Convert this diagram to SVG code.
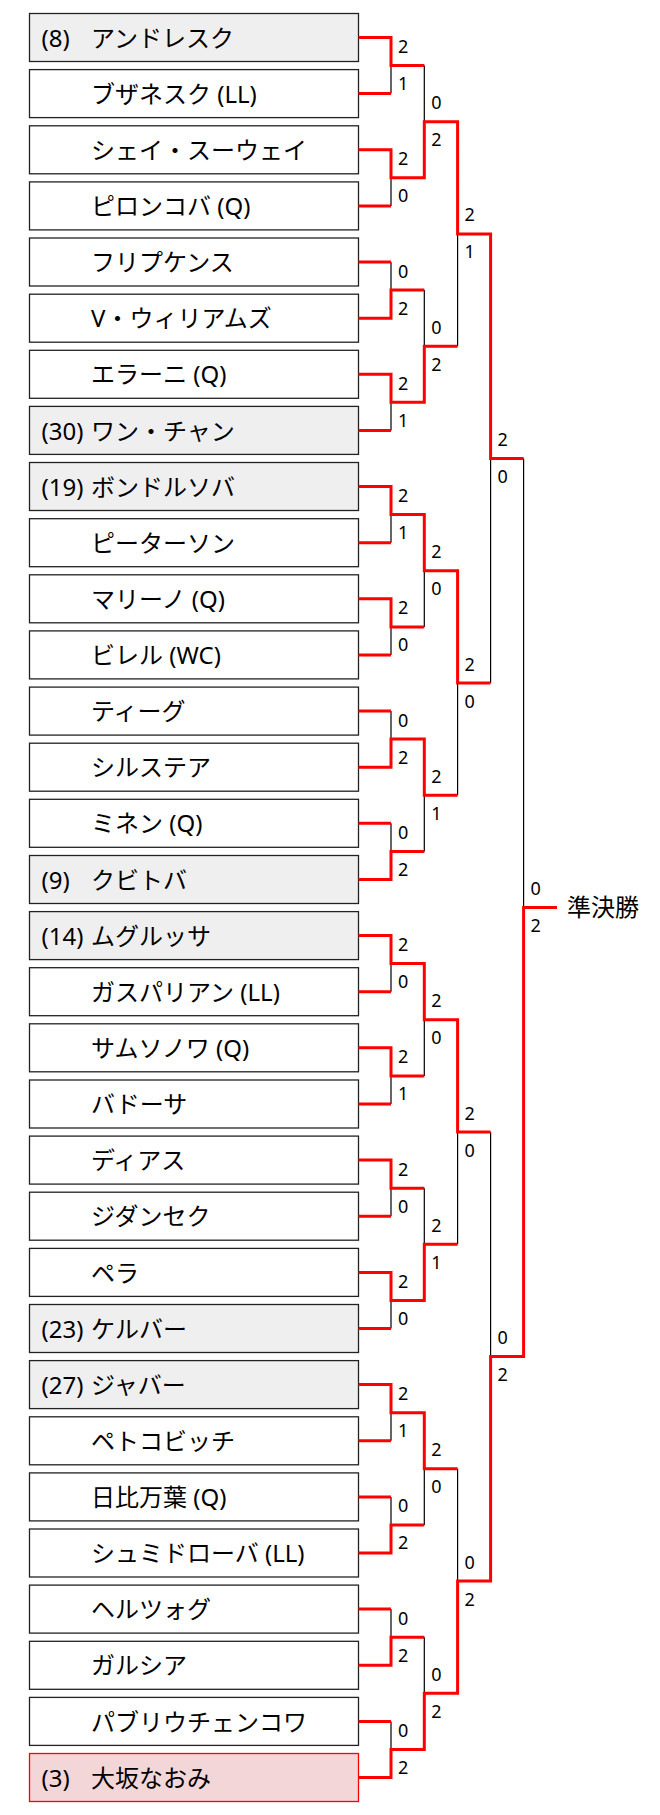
<svg xmlns="http://www.w3.org/2000/svg" width="660" height="1815" viewBox="0 0 660 1815">
<style>
text{font-family:"Noto Sans","Noto Sans CJK JP",sans-serif;fill:#000}
.box{fill:#fff;stroke:#222;stroke-width:1.3}
.seed{fill:#efefef}
.champ{fill:#f3d6d8;stroke:#f00}
.nm{font-size:24px}
.sc{font-size:18px}
.red{fill:none;stroke:#f00;stroke-width:3;stroke-linejoin:miter}
.blk{fill:none;stroke:#000;stroke-width:1.2}
</style>
<rect width="660" height="1815" fill="#fff"/>
<g id="players">
<g id="p1" transform="translate(0,13.5)"><rect class="box seed" x="29.5" y="0" width="329" height="48"/><text class="nm" x="41.5" y="33.2">(8)</text><text class="nm" x="91" y="33.2">アンドレスク</text></g>
<g id="p2" transform="translate(0,69.6)"><rect class="box" x="29.5" y="0" width="329" height="48"/><text class="nm" x="91" y="33.2">ブザネスク (LL)</text></g>
<g id="p3" transform="translate(0,125.8)"><rect class="box" x="29.5" y="0" width="329" height="48"/><text class="nm" x="91" y="33.2">シェイ・スーウェイ</text></g>
<g id="p4" transform="translate(0,181.9)"><rect class="box" x="29.5" y="0" width="329" height="48"/><text class="nm" x="91" y="33.2">ピロンコバ (Q)</text></g>
<g id="p5" transform="translate(0,238)"><rect class="box" x="29.5" y="0" width="329" height="48"/><text class="nm" x="91" y="33.2">フリプケンス</text></g>
<g id="p6" transform="translate(0,294.2)"><rect class="box" x="29.5" y="0" width="329" height="48"/><text class="nm" x="91" y="33.2">V・ウィリアムズ</text></g>
<g id="p7" transform="translate(0,350.3)"><rect class="box" x="29.5" y="0" width="329" height="48"/><text class="nm" x="91" y="33.2">エラーニ (Q)</text></g>
<g id="p8" transform="translate(0,406.4)"><rect class="box seed" x="29.5" y="0" width="329" height="48"/><text class="nm" x="41.5" y="33.2">(30)</text><text class="nm" x="91" y="33.2">ワン・チャン</text></g>
<g id="p9" transform="translate(0,462.5)"><rect class="box seed" x="29.5" y="0" width="329" height="48"/><text class="nm" x="41.5" y="33.2">(19)</text><text class="nm" x="91" y="33.2">ボンドルソバ</text></g>
<g id="p10" transform="translate(0,518.7)"><rect class="box" x="29.5" y="0" width="329" height="48"/><text class="nm" x="91" y="33.2">ピーターソン</text></g>
<g id="p11" transform="translate(0,574.8)"><rect class="box" x="29.5" y="0" width="329" height="48"/><text class="nm" x="91" y="33.2">マリーノ (Q)</text></g>
<g id="p12" transform="translate(0,630.9)"><rect class="box" x="29.5" y="0" width="329" height="48"/><text class="nm" x="91" y="33.2">ビレル (WC)</text></g>
<g id="p13" transform="translate(0,687.1)"><rect class="box" x="29.5" y="0" width="329" height="48"/><text class="nm" x="91" y="33.2">ティーグ</text></g>
<g id="p14" transform="translate(0,743.2)"><rect class="box" x="29.5" y="0" width="329" height="48"/><text class="nm" x="91" y="33.2">シルステア</text></g>
<g id="p15" transform="translate(0,799.3)"><rect class="box" x="29.5" y="0" width="329" height="48"/><text class="nm" x="91" y="33.2">ミネン (Q)</text></g>
<g id="p16" transform="translate(0,855.5)"><rect class="box seed" x="29.5" y="0" width="329" height="48"/><text class="nm" x="41.5" y="33.2">(9)</text><text class="nm" x="91" y="33.2">クビトバ</text></g>
<g id="p17" transform="translate(0,911.6)"><rect class="box seed" x="29.5" y="0" width="329" height="48"/><text class="nm" x="41.5" y="33.2">(14)</text><text class="nm" x="91" y="33.2">ムグルッサ</text></g>
<g id="p18" transform="translate(0,967.7)"><rect class="box" x="29.5" y="0" width="329" height="48"/><text class="nm" x="91" y="33.2">ガスパリアン (LL)</text></g>
<g id="p19" transform="translate(0,1023.8)"><rect class="box" x="29.5" y="0" width="329" height="48"/><text class="nm" x="91" y="33.2">サムソノワ (Q)</text></g>
<g id="p20" transform="translate(0,1080)"><rect class="box" x="29.5" y="0" width="329" height="48"/><text class="nm" x="91" y="33.2">バドーサ</text></g>
<g id="p21" transform="translate(0,1136.1)"><rect class="box" x="29.5" y="0" width="329" height="48"/><text class="nm" x="91" y="33.2">ディアス</text></g>
<g id="p22" transform="translate(0,1192.2)"><rect class="box" x="29.5" y="0" width="329" height="48"/><text class="nm" x="91" y="33.2">ジダンセク</text></g>
<g id="p23" transform="translate(0,1248.4)"><rect class="box" x="29.5" y="0" width="329" height="48"/><text class="nm" x="91" y="33.2">ペラ</text></g>
<g id="p24" transform="translate(0,1304.5)"><rect class="box seed" x="29.5" y="0" width="329" height="48"/><text class="nm" x="41.5" y="33.2">(23)</text><text class="nm" x="91" y="33.2">ケルバー</text></g>
<g id="p25" transform="translate(0,1360.6)"><rect class="box seed" x="29.5" y="0" width="329" height="48"/><text class="nm" x="41.5" y="33.2">(27)</text><text class="nm" x="91" y="33.2">ジャバー</text></g>
<g id="p26" transform="translate(0,1416.8)"><rect class="box" x="29.5" y="0" width="329" height="48"/><text class="nm" x="91" y="33.2">ペトコビッチ</text></g>
<g id="p27" transform="translate(0,1472.9)"><rect class="box" x="29.5" y="0" width="329" height="48"/><text class="nm" x="91" y="33.2">日比万葉 (Q)</text></g>
<g id="p28" transform="translate(0,1529)"><rect class="box" x="29.5" y="0" width="329" height="48"/><text class="nm" x="91" y="33.2">シュミドローバ (LL)</text></g>
<g id="p29" transform="translate(0,1585.1)"><rect class="box" x="29.5" y="0" width="329" height="48"/><text class="nm" x="91" y="33.2">ヘルツォグ</text></g>
<g id="p30" transform="translate(0,1641.3)"><rect class="box" x="29.5" y="0" width="329" height="48"/><text class="nm" x="91" y="33.2">ガルシア</text></g>
<g id="p31" transform="translate(0,1697.4)"><rect class="box" x="29.5" y="0" width="329" height="48"/><text class="nm" x="91" y="33.2">パブリウチェンコワ</text></g>
<g id="p32" transform="translate(0,1753.5)"><rect class="box champ" x="29.5" y="0" width="329" height="48"/><text class="nm" x="41.5" y="33.2">(3)</text><text class="nm" x="91" y="33.2">大坂なおみ</text></g>
</g>
<g id="connectors">
<g id="losers">
<path class="blk" d="M391 93.6V65.6M391 205.9V177.8M391 262V290.1M391 430.4V402.3M391 542.7V514.6M391 654.9V626.9M391 711.1V739.1M391 823.3V851.4M391 991.7V963.6M391 1104V1075.9M391 1216.2V1188.2M391 1328.5V1300.4M391 1440.8V1412.7M391 1496.9V1524.9M391 1609.1V1637.2M391 1721.4V1749.5"/>
<path class="blk" d="M424.3 65.6V121.7M424.3 290.1V346.2M424.3 626.9V570.7M424.3 851.4V795.3M424.3 1075.9V1019.8M424.3 1188.2V1244.3M424.3 1524.9V1468.8M424.3 1637.2V1693.3"/>
<path class="blk" d="M457.6 346.2V233.9M457.6 795.3V683M457.6 1244.3V1132M457.6 1468.8V1581.1"/>
<path class="blk" d="M490.6 683V458.5M490.6 1132V1356.6"/>
<path class="blk" d="M523.6 458.5V907.5"/>
</g>
<g id="paths">
<path class="red" d="M358.5 37.5H391V65.6H424.3"/>
<path class="red" d="M358.5 93.6H391"/>
<path class="red" d="M358.5 149.8H391V177.8H424.3V121.7H457.6V233.9H490.6V458.5H523.6"/>
<path class="red" d="M358.5 205.9H391"/>
<path class="red" d="M358.5 262H391"/>
<path class="red" d="M358.5 318.2H391V290.1H424.3"/>
<path class="red" d="M358.5 374.3H391V402.3H424.3V346.2H457.6"/>
<path class="red" d="M358.5 430.4H391"/>
<path class="red" d="M358.5 486.5H391V514.6H424.3V570.7H457.6V683H490.6"/>
<path class="red" d="M358.5 542.7H391"/>
<path class="red" d="M358.5 598.8H391V626.9H424.3"/>
<path class="red" d="M358.5 654.9H391"/>
<path class="red" d="M358.5 711.1H391"/>
<path class="red" d="M358.5 767.2H391V739.1H424.3V795.3H457.6"/>
<path class="red" d="M358.5 823.3H391"/>
<path class="red" d="M358.5 879.5H391V851.4H424.3"/>
<path class="red" d="M358.5 935.6H391V963.6H424.3V1019.8H457.6V1132H490.6"/>
<path class="red" d="M358.5 991.7H391"/>
<path class="red" d="M358.5 1047.8H391V1075.9H424.3"/>
<path class="red" d="M358.5 1104H391"/>
<path class="red" d="M358.5 1160.1H391V1188.2H424.3"/>
<path class="red" d="M358.5 1216.2H391"/>
<path class="red" d="M358.5 1272.4H391V1300.4H424.3V1244.3H457.6"/>
<path class="red" d="M358.5 1328.5H391"/>
<path class="red" d="M358.5 1384.6H391V1412.7H424.3V1468.8H457.6"/>
<path class="red" d="M358.5 1440.8H391"/>
<path class="red" d="M358.5 1496.9H391"/>
<path class="red" d="M358.5 1553H391V1524.9H424.3"/>
<path class="red" d="M358.5 1609.1H391"/>
<path class="red" d="M358.5 1665.3H391V1637.2H424.3"/>
<path class="red" d="M358.5 1721.4H391"/>
<path class="red" d="M358.5 1777.5H391V1749.5H424.3V1693.3H457.6V1581.1H490.6V1356.6H523.6V907.5H557"/>
</g>
<g id="scores" class="sc">
<text class="sc" x="398" y="53.1">2</text><text class="sc" x="398" y="90.1">1</text>
<text class="sc" x="398" y="165.3">2</text><text class="sc" x="398" y="202.3">0</text>
<text class="sc" x="398" y="277.6">0</text><text class="sc" x="398" y="314.6">2</text>
<text class="sc" x="398" y="389.8">2</text><text class="sc" x="398" y="426.8">1</text>
<text class="sc" x="398" y="502.1">2</text><text class="sc" x="398" y="539.1">1</text>
<text class="sc" x="398" y="614.4">2</text><text class="sc" x="398" y="651.4">0</text>
<text class="sc" x="398" y="726.6">0</text><text class="sc" x="398" y="763.6">2</text>
<text class="sc" x="398" y="838.9">0</text><text class="sc" x="398" y="875.9">2</text>
<text class="sc" x="398" y="951.1">2</text><text class="sc" x="398" y="988.1">0</text>
<text class="sc" x="398" y="1063.4">2</text><text class="sc" x="398" y="1100.4">1</text>
<text class="sc" x="398" y="1175.7">2</text><text class="sc" x="398" y="1212.7">0</text>
<text class="sc" x="398" y="1287.9">2</text><text class="sc" x="398" y="1324.9">0</text>
<text class="sc" x="398" y="1400.2">2</text><text class="sc" x="398" y="1437.2">1</text>
<text class="sc" x="398" y="1512.4">0</text><text class="sc" x="398" y="1549.4">2</text>
<text class="sc" x="398" y="1624.7">0</text><text class="sc" x="398" y="1661.7">2</text>
<text class="sc" x="398" y="1737">0</text><text class="sc" x="398" y="1774">2</text>
<text class="sc" x="431.3" y="109.2">0</text><text class="sc" x="431.3" y="146.2">2</text>
<text class="sc" x="431.3" y="333.7">0</text><text class="sc" x="431.3" y="370.7">2</text>
<text class="sc" x="431.3" y="558.2">2</text><text class="sc" x="431.3" y="595.2">0</text>
<text class="sc" x="431.3" y="782.8">2</text><text class="sc" x="431.3" y="819.8">1</text>
<text class="sc" x="431.3" y="1007.3">2</text><text class="sc" x="431.3" y="1044.3">0</text>
<text class="sc" x="431.3" y="1231.8">2</text><text class="sc" x="431.3" y="1268.8">1</text>
<text class="sc" x="431.3" y="1456.3">2</text><text class="sc" x="431.3" y="1493.3">0</text>
<text class="sc" x="431.3" y="1680.8">0</text><text class="sc" x="431.3" y="1717.8">2</text>
<text class="sc" x="464.6" y="221.4">2</text><text class="sc" x="464.6" y="258.4">1</text>
<text class="sc" x="464.6" y="670.5">2</text><text class="sc" x="464.6" y="707.5">0</text>
<text class="sc" x="464.6" y="1119.5">2</text><text class="sc" x="464.6" y="1156.5">0</text>
<text class="sc" x="464.6" y="1568.6">0</text><text class="sc" x="464.6" y="1605.6">2</text>
<text class="sc" x="497.6" y="446">2</text><text class="sc" x="497.6" y="483">0</text>
<text class="sc" x="497.6" y="1344.1">0</text><text class="sc" x="497.6" y="1381.1">2</text>
<text class="sc" x="530.6" y="895">0</text><text class="sc" x="530.6" y="932">2</text>
</g>
</g>
<g id="final"><text class="nm" x="567" y="916">準決勝</text></g>
</svg>
